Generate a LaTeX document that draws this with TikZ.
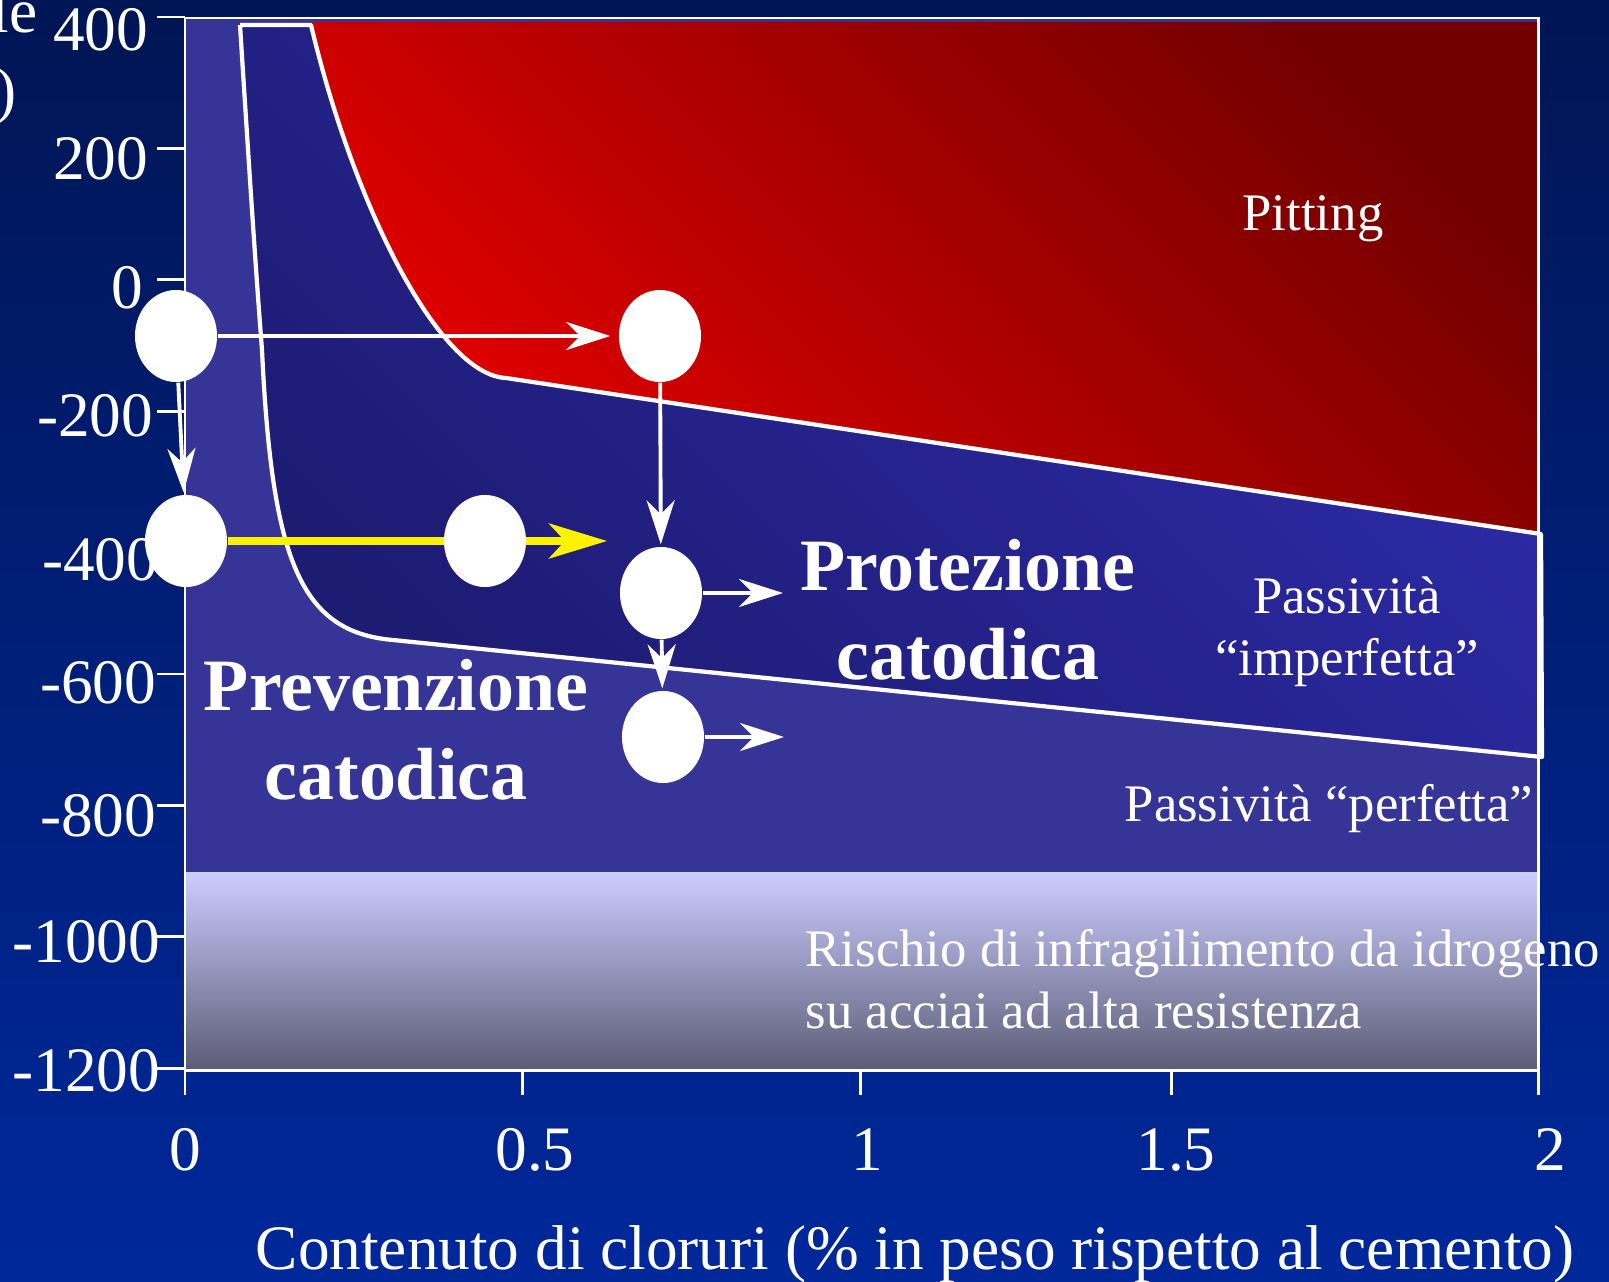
\documentclass[tikz,border=0pt]{standalone}
\usepackage{fontspec}
\setmainfont{Liberation Serif}
\usetikzlibrary{arrows.meta,shapes.geometric}

\definecolor{bgtop}{RGB}{0,21,84}
\definecolor{bgbottom}{RGB}{0,40,155}
\definecolor{perfblue}{RGB}{54,52,150}
\definecolor{protdark}{RGB}{30,27,115}
\definecolor{protlight}{RGB}{46,44,172}
\definecolor{pitdark}{RGB}{115,0,0}
\definecolor{pitlight}{RGB}{228,0,0}
\definecolor{risktop}{RGB}{204,204,255}
\definecolor{riskbottom}{RGB}{92,92,118}

\begin{document}
\begin{tikzpicture}[x=0.01cm, y=-0.01cm,
    dot/.style={ellipse, fill=white, minimum width=0.82cm, minimum height=0.92cm, inner sep=0pt},
    warrow/.style={white, line width=1.1pt, -{Stealth[length=0.44cm, width=0.28cm, inset=0.14cm]}},
    yarrow/.style={yellow, line width=2pt, -{Stealth[length=0.58cm, width=0.35cm, inset=0.16cm]}},
    border/.style={white, line width=1.2pt, line join=round},
    axline/.style={white, line width=0.85pt},
    numlabel/.style={text=white, inner sep=0pt, font=\fontsize{18}{21}\selectfont},
    zonelabel/.style={text=white, inner sep=0pt, font=\fontsize{15}{17.6}\selectfont},
    biglabel/.style={text=white, inner sep=0pt, align=center, font=\fontsize{21}{25.3}\selectfont\bfseries}]
    % Define page and background
    \useasboundingbox (0,0) rectangle (1609,1282);
    \clip (0,0) rectangle (1609,1282);
    \shade[top color=bgtop, bottom color=bgbottom] (0,0) rectangle (1609,1282);
    % Draw zones
    \fill[perfblue] (185,18) rectangle (1538,872);
    \shade[top color=risktop, bottom color=riskbottom] (185,872) rectangle (1538,1070);
    \shade[top color=pitdark, bottom color=pitlight, shading angle=-45]
        (311,22) -- (1538,22) -- (1538,534) -- (506,378)
        .. controls (440,375) and (355,210) .. (311,25) -- cycle;
    \shade[top color=protlight, bottom color=protdark, shading angle=-45]
        (240,25) -- (311,25) .. controls (355,210) and (440,375) .. (506,378)
        -- (1541,534) -- (1542,757) -- (393,640)
        .. controls (300,632) and (272,560) .. (262,350)
        .. controls (255,260) and (248,150) .. (240,25) -- cycle;
    \draw[border] (240,25) -- (311,25) .. controls (355,210) and (440,375) .. (506,378)
        -- (1541,534) -- (1542,757) -- (393,640)
        .. controls (300,632) and (272,560) .. (262,350)
        .. controls (255,260) and (248,150) .. (240,25);
    % Draw frame and ticks
    \draw[axline] (185,18) rectangle (1538,1070);
    \foreach \v in {400,200,...,-1200}
        {\draw[axline] (157,{17+(400-\v)*0.657}) -- (185,{17+(400-\v)*0.657});}
    \foreach \xt in {185,522,860,1171,1538}
        {\draw[axline] (\xt,1070) -- (\xt,1095);}
    % Tick labels
    \foreach \v/\lx/\ly [count=\i] in {400/149/51, 200/149/180, 0/144/308, -200/154/436, -400/159/580,
                                       -600/157/703, -800/157/836, -1000/161/962, -1200/161/1091} {
        \node[numlabel, anchor=base east] (ytick\i) at (\lx,\ly) {\v};
    }
    \foreach \v/\lx [count=\i] in {0/185, 0.5/535, 1/867, 1.5/1176, 2/1550} {
        \node[numlabel, anchor=base] (xtick\i) at (\lx,1170) {\v};
    }
    % Axis titles
    \node[numlabel, anchor=base] (xtitle) at (915,1269) {Contenuto di cloruri (\% in peso rispetto al cemento)};
    \node[numlabel, anchor=base east] (ytitle) at (38,33) {Potenziale};
    \node[numlabel, anchor=base east] (yunit) at (17,112) {(mV vs SCE)};
    % Zone labels
    \node[zonelabel, anchor=base] (pitting) at (1313,231) {Pitting};
    \node[zonelabel, align=center] (imperf) at (1347,632) {Passività\\“imperfetta”};
    \node[zonelabel, anchor=base east] (perf) at (1534,821) {Passività “perfetta”};
    \node[zonelabel, align=left, anchor=west] (risk) at (805,979) {Rischio di infragilimento da idrogeno\\su acciai ad alta resistenza};
    \node[biglabel] (protez) at (968,610) {Protezione\\catodica};
    \node[biglabel] (prevenz) at (396,730) {Prevenzione\\catodica};
    % Define potential markers
    \foreach \x/\y/\n in {176/336/p1, 660/336/p2, 186/541/p3, 661/593/p5, 663/737/p6} {
        \node[dot] (\n) at (\x,\y) {};
    }
    \coordinate (yend) at (607,541);
    \coordinate (e5) at (785,593);
    \coordinate (e6) at (786,737);
    \draw[yarrow] (p3) -- (yend);
    \node[dot] (p4) at (485,541) {};
    % Draw potential shifts
    \draw[warrow, shorten >=0.08cm] (p1) -- (p2);
    \foreach \a/\b in {p1/p3, p2/p5, p5/p6, p5/e5, p6/e6}
    {   \draw[warrow, shorten >=0.02cm] (\a) -- (\b);}
\end{tikzpicture}
\end{document}
